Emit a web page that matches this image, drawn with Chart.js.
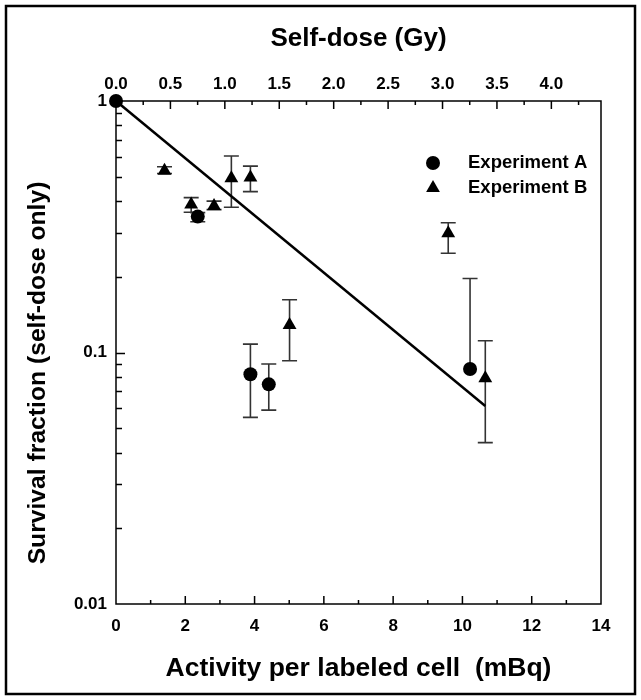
<!DOCTYPE html>
<html>
<head>
<meta charset="utf-8">
<script src="https://cdn.jsdelivr.net/npm/chart.js@4.4.1/dist/chart.umd.min.js"></script>
<style>
  html, body { margin: 0; padding: 0; background: #fff; }
  #wrap { width: 641px; height: 700px; }
</style>
</head>
<body>
<div id="wrap"><canvas id="survival" width="641" height="700"></canvas></div>
<script>
// Experiment A (circles)
const expA_x = [0, 2.36, 3.88, 4.41, 10.22];
const expA_y = [1.0, 0.347, 0.082, 0.0747, 0.086];
const expA_hi = [null, 0.36, 0.108, 0.090, 0.197];
const expA_lo = [null, 0.331, 0.0552, 0.059, null];

// Experiment B (triangles)
const expB_x = [1.40, 2.17, 2.83, 3.33, 3.88, 5.01, 9.59, 10.66];
const expB_y = [0.528, 0.388, 0.382, 0.493, 0.496, 0.1286, 0.298, 0.079];
const expB_hi = [0.548, 0.413, 0.40, 0.604, 0.551, 0.162, 0.328, 0.1114];
const expB_lo = [0.515, 0.361, 0.37, 0.378, 0.436, 0.0927, 0.248, 0.0438];

// fitted line (end points)
const fit_x = [0, 10.66];
const fit_y = [1.0, 0.0613];

// top axis: self-dose in Gy over the same 0-14 mBq range
const gyMax = 4.456;
const yLabels = [1, 0.1, 0.01];
const yMinor = [0.02, 0.03, 0.04, 0.05, 0.06, 0.07, 0.08, 0.09,
                0.2, 0.3, 0.4, 0.5, 0.6, 0.7, 0.8, 0.9];

const FONT = "'Liberation Sans', Arial, sans-serif";

function toPoints(xs, ys) {
    return xs.map((x, i) => ({ x: x, y: ys[i] }));
}

const errBars = {
    id: 'errBars',
    beforeDatasetsDraw(chart) {
        const ctx = chart.ctx;
        const xs = chart.scales.x, ys = chart.scales.y;
        const sets = [[expA_x, expA_y, expA_lo, expA_hi], [expB_x, expB_y, expB_lo, expB_hi]];
        ctx.save();
        ctx.strokeStyle = '#333';
        ctx.lineWidth = 1.6;
        sets.forEach(function (s) {
            s[0].forEach(function (xv, i) {
                const hi = s[3][i], lo = s[2][i];
                if (hi === null && lo === null) return;
                const px = xs.getPixelForValue(xv);
                const pTop = ys.getPixelForValue(hi !== null ? hi : s[1][i]);
                const pBot = ys.getPixelForValue(lo !== null ? lo : s[1][i]);
                ctx.beginPath();
                ctx.moveTo(px, pTop);
                ctx.lineTo(px, pBot);
                if (hi !== null) { ctx.moveTo(px - 7.5, pTop); ctx.lineTo(px + 7.5, pTop); }
                if (lo !== null) { ctx.moveTo(px - 7.5, pBot); ctx.lineTo(px + 7.5, pBot); }
                ctx.stroke();
            });
        });
        ctx.restore();
    }
};

// frame, inward ticks, y title and legend
const decor = {
    id: 'decor',
    afterDraw(chart) {
        const ctx = chart.ctx;
        const a = chart.chartArea;
        const ys = chart.scales.y;
        ctx.save();
        ctx.strokeStyle = '#000';

        ctx.lineWidth = 2.5;
        ctx.strokeRect(6, 6, 629, 688);

        ctx.lineWidth = 1.5;
        ctx.strokeRect(a.left, a.top, a.right - a.left, a.bottom - a.top);

        ctx.lineWidth = 1.5;
        ctx.beginPath();
        chart.scales.x.ticks.forEach(function (t) {
            const px = chart.scales.x.getPixelForValue(t.value);
            if (t.value <= 0 || t.value >= 14) return;
            const len = t.value % 2 === 0 ? 8 : 4;
            ctx.moveTo(px, a.bottom);
            ctx.lineTo(px, a.bottom - len);
        });
        chart.scales.x2.ticks.forEach(function (t) {
            if (t.value <= 0 || Math.abs(t.value * 4 - Math.round(t.value * 4)) > 1e-6) return;
            const px = chart.scales.x2.getPixelForValue(t.value);
            const len = Math.abs(t.value * 2 - Math.round(t.value * 2)) < 1e-6 ? 8 : 4;
            ctx.moveTo(px, a.top);
            ctx.lineTo(px, a.top + len);
        });
        yMinor.concat([0.1]).forEach(function (v) {
            const py = Math.round(ys.getPixelForValue(v)) + 0.5;
            const len = v === 0.1 ? 9 : 6;
            ctx.moveTo(a.left, py);
            ctx.lineTo(a.left + len, py);
        });
        ctx.stroke();

        // y axis title, sitting a little below the axis centre as in the original
        ctx.fillStyle = '#000';
        ctx.font = 'bold 24.7px ' + FONT;
        ctx.textAlign = 'center';
        ctx.textBaseline = 'middle';
        ctx.translate(38, 373);
        ctx.rotate(-Math.PI / 2);
        ctx.fillText('Survival fraction (self-dose only)', 0, 0);
        ctx.setTransform(1, 0, 0, 1, 0, 0);

        // legend
        const lx = a.right - 168, ly = a.top + 62;
        ctx.beginPath();
        ctx.arc(lx, ly, 7, 0, Math.PI * 2);
        ctx.fill();
        ctx.beginPath();
        ctx.moveTo(lx, ly + 25 - 8);
        ctx.lineTo(lx + 6.9, ly + 25 + 4);
        ctx.lineTo(lx - 6.9, ly + 25 + 4);
        ctx.closePath();
        ctx.fill();
        ctx.font = 'bold 18.5px ' + FONT;
        ctx.textBaseline = 'middle';
        ctx.textAlign = 'left';
        ctx.fillText('Experiment A', lx + 35, ly);
        ctx.fillText('Experiment B', lx + 35, ly + 25);
        ctx.restore();
    }
};

const ctx = document.getElementById('survival').getContext('2d');

const config = {
    type: 'scatter',
    data: {
        datasets: [{
            label: 'Experiment A',
            data: toPoints(expA_x, expA_y),
            pointStyle: 'circle',
            pointRadius: 7,
            pointHoverRadius: 7,
            backgroundColor: '#000',
            borderWidth: 0,
            clip: false
        }, {
            label: 'Experiment B',
            data: toPoints(expB_x, expB_y),
            pointStyle: 'triangle',
            pointRadius: 8,
            pointHoverRadius: 8,
            backgroundColor: '#000',
            borderWidth: 0,
            clip: false
        }, {
            type: 'line',
            label: 'fit',
            data: toPoints(fit_x, fit_y),
            borderColor: '#000',
            borderWidth: 2.5,
            pointRadius: 0,
            fill: false,
            clip: false
        }]
    },
    options: {
        responsive: false,
        animation: false,
        layout: { padding: { left: 0, right: 40, top: 0, bottom: 0 } },
        plugins: {
            legend: { display: false },
            tooltip: { enabled: false }
        },
        scales: {
            x: {
                type: 'linear',
                position: 'bottom',
                min: 0,
                max: 14,
                grid: { display: false, drawTicks: false },
                border: { display: false },
                ticks: {
                    stepSize: 1,
                    autoSkip: false,
                    maxRotation: 0,
                    padding: 12,
                    color: '#000',
                    font: { family: FONT, size: 17, weight: 'bold' },
                    callback: function (v) { return v % 2 === 0 ? v : ''; }
                },
                title: {
                    display: true,
                    text: 'Activity per labeled cell  (mBq)',
                    color: '#000',
                    font: { family: FONT, size: 26.5, weight: 'bold' },
                    padding: { top: 0, bottom: 15 }
                },
                afterFit: function (s) { s.height = 96; }
            },
            x2: {
                type: 'linear',
                position: 'top',
                min: 0,
                max: gyMax,
                grid: { display: false, drawTicks: false },
                border: { display: false },
                ticks: {
                    stepSize: 0.25,
                    includeBounds: false,
                    autoSkip: false,
                    maxRotation: 0,
                    padding: 6,
                    color: '#000',
                    font: { family: FONT, size: 17, weight: 'bold' },
                    callback: function (v) {
                        return Math.abs(v * 2 - Math.round(v * 2)) < 1e-6 ? v.toFixed(1) : '';
                    }
                },
                title: {
                    display: true,
                    text: 'Self-dose (Gy)',
                    color: '#000',
                    font: { family: FONT, size: 26, weight: 'bold' },
                    padding: { top: 23, bottom: 0 }
                },
                afterFit: function (s) { s.height = 101; }
            },
            y: {
                type: 'logarithmic',
                position: 'left',
                min: 0.01,
                max: 1,
                grid: { display: false, drawTicks: false },
                border: { display: false },
                afterBuildTicks: function (s) {
                    s.ticks = yLabels.map(function (v) { return { value: v }; });
                },
                ticks: {
                    autoSkip: false,
                    padding: 9,
                    color: '#000',
                    font: { family: FONT, size: 17, weight: 'bold' },
                    callback: function (v) { return String(v); }
                },
                title: { display: false },
                afterFit: function (s) { s.width = 116; }
            }
        }
    },
    plugins: [errBars, decor]
};

const survivalChart = new Chart(ctx, config);
</script>
</body>
</html>
